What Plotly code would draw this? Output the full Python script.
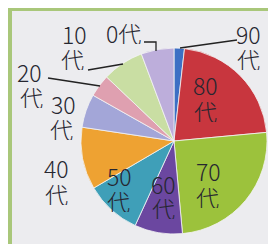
import plotly.graph_objects as go

# ---- data ----
ages = ["90代", "80代", "70代", "60代", "50代", "40代", "30代", "20代", "10代", "0代"]
shares = [1.8, 21.7, 25.0, 8.3, 9.7, 10.8, 5.8, 3.9, 7.2, 5.7]
colors = ["#3d6fc4", "#c8363e", "#9cc23c", "#6b47a0", "#3f9fb8",
          "#eea232", "#a3a6d8", "#dfa0b0", "#c9dea3", "#bdaedb"]

W, H = 276, 244
CX, CY, R = 166, 133, 93


def px(x, y):
    return x / W, 1 - y / H


fig = go.Figure()
fig.add_trace(go.Pie(
    labels=ages, values=shares, sort=False, direction="clockwise", rotation=0,
    marker=dict(colors=colors, line=dict(color="#f4f4f4", width=0.8)),
    textinfo="none", hoverinfo="skip", showlegend=False,
    domain=dict(x=[(CX - R) / W, (CX + R) / W], y=[1 - (CY + R) / H, 1 - (CY - R) / H]),
))

FONT = dict(family="Noto Sans CJK JP", size=23, color="#262630", weight=300)

# label layout (pixel centres of number line and 代 line)
label_pos = {
    "90代": ((240, 26), (240, 51)),
    "80代": ((197, 77), (197, 103)),
    "70代": ((200, 163), (199, 189)),
    "60代": ((155, 176), (155, 200)),
    "50代": ((111, 168), (110, 193)),
    "40代": ((48, 160), (48, 186)),
    "30代": ((55, 96), (53, 121)),
    "20代": ((22, 64), (23, 89)),
    "10代": ((66, 26), (64, 51)),
}
annotations = []
BOX = dict(showarrow=False, font=FONT, xanchor="center", yanchor="middle",
           height=22, borderpad=0, xref="paper", yref="paper")
for lab in ages:
    if lab in label_pos:
        (nx, ny), (kx, ky) = label_pos[lab]
        x, y = px(nx, ny)
        annotations.append(dict(x=x, y=y, text=lab[:-1], **BOX))
        x, y = px(kx, ky)
        annotations.append(dict(x=x, y=y, text=lab[-1], **BOX))
    else:
        x, y = px(115, 25)
        annotations.append(dict(x=x, y=y, text=lab, **BOX))

# leader lines and frame
leaders = [
    [(229, 32), (172, 40)],
    [(136, 34), (148, 34), (148, 43)],
    [(80, 62), (115, 56)],
    [(40, 70), (92, 78)],
]
shapes = []
for pts in leaders:
    path = "M " + " L ".join(f"{px(x, y)[0]},{px(x, y)[1]}" for x, y in pts)
    shapes.append(dict(type="path", xref="paper", yref="paper", path=path,
                       line=dict(color="#222222", width=1.3)))
shapes.append(dict(type="rect", xref="paper", yref="paper", x0=0, x1=4 / W, y0=0, y1=1,
                   fillcolor="#a9c77a", line=dict(width=0), layer="above"))
shapes.append(dict(type="rect", xref="paper", yref="paper", x0=0, x1=1, y0=1 - 3 / H, y1=1,
                   fillcolor="#a9c77a", line=dict(width=0), layer="above"))
shapes.append(dict(type="rect", xref="paper", yref="paper", x0=0, x1=1, y0=0, y1=2 / H,
                   fillcolor="#cfcfd2", line=dict(width=0), layer="above"))

fig.update_layout(
    width=W, height=H, margin=dict(l=0, r=0, t=0, b=0),
    paper_bgcolor="#ececef", plot_bgcolor="#ececef",
    annotations=annotations, shapes=shapes,
)
fig.write_html("out.html")
